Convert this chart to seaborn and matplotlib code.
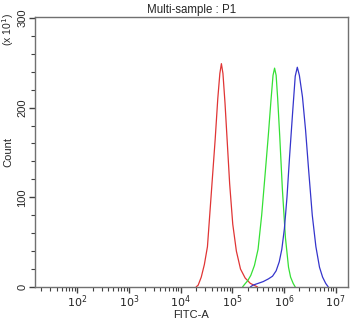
import numpy as np
import pandas as pd
import seaborn as sns
import matplotlib.pyplot as plt
from matplotlib.ticker import LogLocator, MultipleLocator, FixedLocator

# Histogram outlines: log10(FITC-A) and count (x10)
red_log = [4.30, 4.34, 4.40, 4.46, 4.52, 4.57, 4.62, 4.67, 4.72, 4.76, 4.79,
           4.82, 4.86, 4.90, 4.95, 5.01, 5.08, 5.16, 5.25, 5.35, 5.49]
red_cnt = [0, 2, 11, 25, 45, 85, 125, 165, 210, 238, 249,
           238, 205, 165, 115, 70, 40, 20, 10, 4, 0]

green_log = [5.20, 5.24, 5.30, 5.36, 5.43, 5.50, 5.57, 5.64, 5.70, 5.75, 5.79, 5.82,
             5.85, 5.88, 5.92, 5.97, 6.03, 6.09, 6.13, 6.18, 6.22]
green_cnt = [0, 3, 7, 13, 24, 42, 80, 128, 170, 208, 236, 244,
             236, 210, 168, 110, 55, 22, 11, 4, 0]

blue_log = [5.35, 5.40, 5.50, 5.60, 5.70, 5.78, 5.85, 5.91, 5.96, 6.01, 6.06, 6.11,
            6.17, 6.22, 6.26, 6.30, 6.36, 6.42, 6.48, 6.55, 6.62, 6.69, 6.75, 6.81, 6.86]
blue_cnt = [0, 2, 4, 6, 9, 12, 18, 28, 42, 65, 100, 145,
            195, 235, 245, 236, 212, 175, 130, 80, 45, 22, 11, 4, 0]

samples = ["red", "green", "blue"]
colors = ["#e03535", "#35e035", "#3535cc"]

df = pd.concat([
    pd.DataFrame({"x": 10 ** np.array(lg), "count": c, "sample": s})
    for lg, c, s in [(red_log, red_cnt, "red"), (green_log, green_cnt, "green"),
                     (blue_log, blue_cnt, "blue")]
], ignore_index=True)

sns.set_style("white")
plt.rcParams["font.family"] = ["Liberation Sans", "DejaVu Sans"]

fig = plt.figure(figsize=(3.5, 3.21), dpi=100)
ax = fig.add_axes([0.1, 0.106, 0.894, 0.841])

sns.lineplot(data=df, x="x", y="count", hue="sample", hue_order=samples,
             palette=colors, sort=False, estimator=None, linewidth=0.9,
             legend=False, ax=ax)

ax.set_xscale("log")
ax.set_xlim(10 ** 1.18, 10 ** 7.24)
ax.set_ylim(0, 301)

ax.xaxis.set_major_locator(FixedLocator([1e2, 1e3, 1e4, 1e5, 1e6, 1e7]))
ax.xaxis.set_minor_locator(LogLocator(base=10, subs=np.arange(2, 10)))
ax.xaxis.set_minor_formatter(plt.NullFormatter())
ax.set_xticklabels([f"$10^{k}$" for k in range(2, 8)])
ax.yaxis.set_major_locator(MultipleLocator(100))
ax.yaxis.set_minor_locator(MultipleLocator(20))

for sp in ax.spines.values():
    sp.set_color("#707070")
    sp.set_linewidth(1.0)

ax.tick_params(axis="both", which="major", direction="out", length=4, width=1,
               color="#404040", labelsize=8)
ax.tick_params(axis="both", which="minor", direction="out", length=3, width=0.8,
               color="#404040")
ax.tick_params(axis="x", bottom=True, which="both", pad=0.5)
ax.tick_params(axis="y", left=True, which="both", pad=1.5)
for lab in ax.get_yticklabels():
    lab.set_rotation(90)
    lab.set_va("center")

ax.set_xlabel("FITC-A", fontsize=8)
ax.xaxis.set_label_coords(0.5, -0.085)
ax.set_ylabel("Count", fontsize=8, labelpad=3)
ax.set_title("Multi-sample : P1", fontsize=8.3, pad=3)
fig.text(0.022, 0.96, r"(x 10$^1$)", rotation=90, fontsize=7.5, ha="center", va="top")

fig.savefig("out.png", dpi=100)
